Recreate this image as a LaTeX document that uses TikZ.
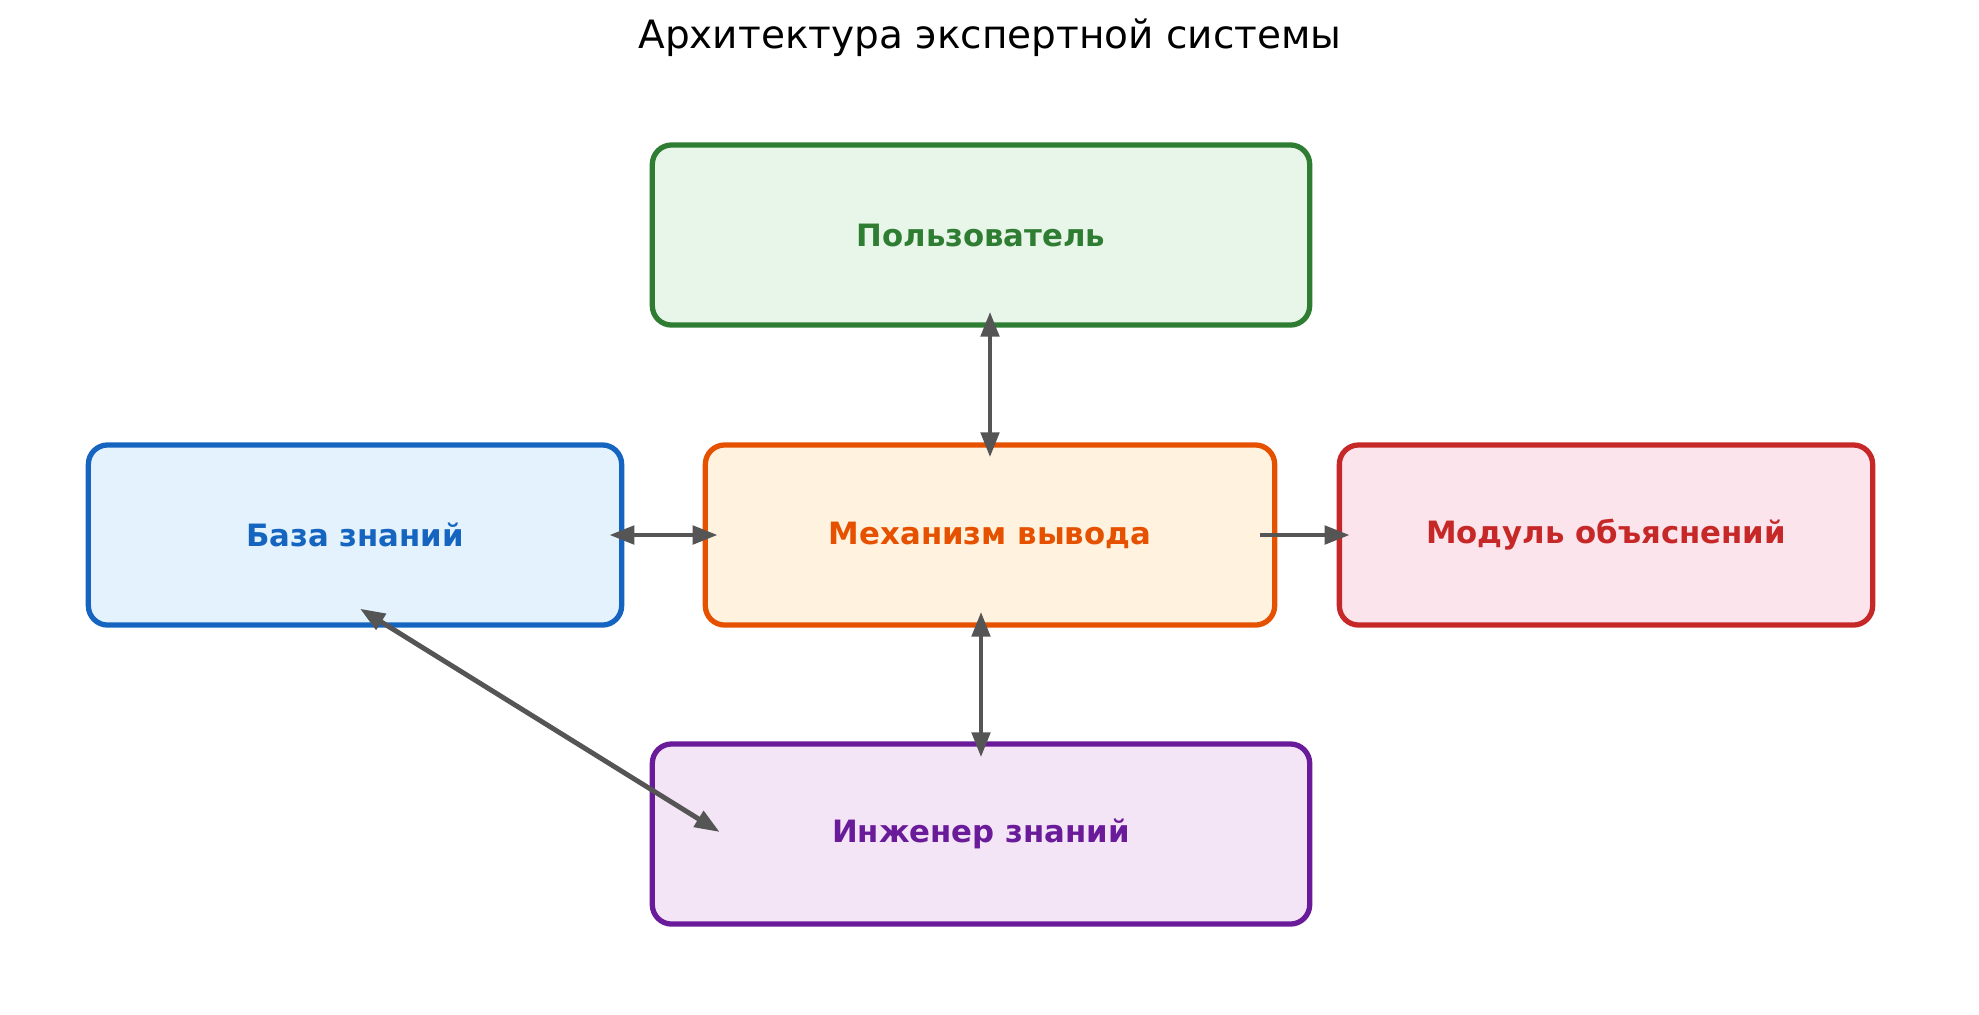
\documentclass[tikz,border=0pt]{standalone}
\usepackage{fontspec}
\setmainfont{DejaVu Sans}
\usetikzlibrary{calc,arrows.meta}
\definecolor{userc}{HTML}{2E7D32}
\definecolor{userbg}{HTML}{E8F5E9}
\definecolor{kbc}{HTML}{1565C0}
\definecolor{kbbg}{HTML}{E3F2FD}
\definecolor{engc}{HTML}{E65100}
\definecolor{engbg}{HTML}{FFF3E0}
\definecolor{explc}{HTML}{C62828}
\definecolor{explbg}{HTML}{FCE4EC}
\definecolor{knowc}{HTML}{6A1B9A}
\definecolor{knowbg}{HTML}{F3E5F5}
\definecolor{arc}{HTML}{555555}
\tikzset{
  box/.style={draw,line width=1.5pt,rounded corners=5.5pt,minimum height=1.80cm,inner sep=0pt,font=\fontsize{8.75}{10}\selectfont\bfseries},
  ar/.style={-{Triangle[length=2.5mm,width=1.8mm]},line width=1.4pt,arc},
  dar/.style={ar,{Triangle[length=2.5mm,width=1.8mm]}-{Triangle[length=2.5mm,width=1.8mm]}}
}
\begin{document}
\begin{tikzpicture}[x=0.01cm,y=-0.01cm]
\useasboundingbox (0,0) rectangle (1979,1014);
\node[font=\fontsize{11.1}{13}\selectfont] (title) at (990,38) {Архитектура экспертной системы};
\node[box,draw=userc,fill=userbg,text=userc,minimum width=6.57cm] (user) at (981,235) {Пользователь};
\node[box,draw=kbc,fill=kbbg,text=kbc,minimum width=5.33cm] (kb) at (355,535) {База знаний};
\node[box,draw=engc,fill=engbg,text=engc,minimum width=5.69cm] (engine) at (990,535) {Механизм вывода};
\node[box,draw=explc,fill=explbg,text=explc,minimum width=5.33cm] (expl) at (1606,535) {Модуль объяснений};
\node[box,draw=knowc,fill=knowbg,text=knowc,minimum width=6.57cm] (eng) at (981,834) {Инженер знаний};
% связи
\draw[dar] ($(engine.north)+(0,15)$) -- ($(user.south)+(9,-16)$);
\draw[dar] ($(kb.east)+(-15,0)$) -- ($(engine.west)+(15,0)$);
\draw[ar] ($(engine.east)+(-17,0)$) -- ($(expl.west)+(13,0)$);
\draw[dar] ($(engine.south)+(-9,-16)$) -- ($(eng.north)+(0,16)$);
\draw[dar] ($(kb.south)+(5,-19)$) -- ($(eng.west)+(70,-2)$);
\end{tikzpicture}
\end{document}
